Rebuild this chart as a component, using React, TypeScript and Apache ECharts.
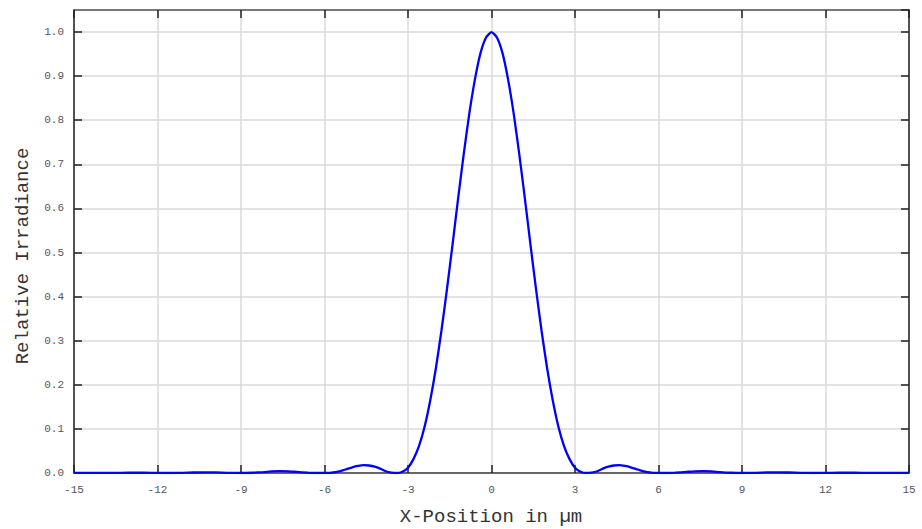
import React, { useEffect, useRef } from "react";
import * as echarts from "echarts";

const xPositions: number[] = [
  -15, -14.4, -13.8, -13.3, -12.8, -12.2, -11.6, -11.1, -10.7, -10.3, -9.9, -9.5, -9.0, -8.6, -8.2, -7.9, -7.6, -7.3, -7.0, -6.6, -6.3,
  -6.0, -5.8, -5.6, -5.4, -5.2, -5.0, -4.8, -4.6, -4.4, -4.2, -4.0, -3.8, -3.6, -3.4, -3.2, -3.0, -2.8, -2.6, -2.4, -2.2, -2.0,
  -1.8, -1.6, -1.4, -1.2, -1.0, -0.8, -0.6, -0.4, -0.2, 0,
  0.2, 0.4, 0.6, 0.8, 1.0, 1.2, 1.4, 1.6, 1.8, 2.0, 2.2, 2.4, 2.6, 2.8, 3.0, 3.2, 3.4, 3.6, 3.8, 4.0,
  4.2, 4.4, 4.6, 4.8, 5.0, 5.2, 5.4, 5.6, 5.8, 6.0, 6.3, 6.6, 7.0, 7.3, 7.6, 7.9, 8.2, 8.6, 9.0,
  9.5, 9.9, 10.3, 10.7, 11.1, 11.6, 12.2, 12.8, 13.3, 13.8, 14.4, 15,
];

const irradiance: number[] = [
  0.0003, 0.0002, 0.0001, 0.0005, 0.0007, 0.0003, 0.0, 0.0004, 0.0011, 0.0016, 0.0012, 0.0004, 0.0, 0.0006, 0.002, 0.0035, 0.0042, 0.0038, 0.0025, 0.0008, 0.0,
  0.0001, 0.0005, 0.002, 0.005, 0.009, 0.013, 0.016, 0.018, 0.017, 0.0145, 0.01, 0.004, 0.001, 0.0, 0.003, 0.012, 0.032, 0.062, 0.106, 0.165, 0.237,
  0.322, 0.417, 0.518, 0.622, 0.722, 0.814, 0.891, 0.951, 0.987, 1.0,
  0.987, 0.951, 0.891, 0.814, 0.722, 0.622, 0.518, 0.417, 0.322, 0.237, 0.165, 0.106, 0.062, 0.032, 0.012, 0.003, 0.0, 0.001, 0.004, 0.01,
  0.0145, 0.017, 0.018, 0.016, 0.013, 0.009, 0.005, 0.002, 0.0005, 0.0001, 0.0, 0.0008, 0.0025, 0.0038, 0.0042, 0.0035, 0.002, 0.0006, 0.0,
  0.0004, 0.0012, 0.0016, 0.0011, 0.0004, 0.0, 0.0003, 0.0007, 0.0005, 0.0001, 0.0002, 0.0003,
];

const xTitle = "X-Position in µm";
const yTitle = "Relative Irradiance";

export default function App() {
  const ref = useRef<HTMLDivElement>(null);
  useEffect(() => {
    if (!ref.current) return;
    const chart = echarts.init(ref.current, null, { renderer: "svg" });
    const labelFont = {
      fontFamily: "'Liberation Mono', monospace",
      fontSize: 11,
      color: "#555563",
    };
    const tick = { show: true, inside: true, length: 8, lineStyle: { color: "#222", width: 1.5 } };
    const split = { show: true, lineStyle: { color: "#dadada", width: 1.5 } };
    const data = xPositions.map((x, i) => [x, irradiance[i]]);
    chart.setOption({
      animation: false,
      backgroundColor: "#ffffff",
      grid: { left: 74, right: 13, top: 10, bottom: 56, containLabel: false },
      xAxis: [
        {
          type: "value",
          min: -15,
          max: 15,
          interval: 3,
          position: "bottom",
          axisLine: { show: true, onZero: false, lineStyle: { color: "#666", width: 2 } },
          axisTick: tick,
          splitLine: split,
          axisLabel: { ...labelFont, margin: 11 },
        },
        {
          type: "value",
          min: -15,
          max: 15,
          interval: 3,
          position: "top",
          axisLine: { show: true, onZero: false, lineStyle: { color: "#555", width: 1.5 } },
          axisTick: tick,
          splitLine: { show: false },
          axisLabel: { show: false },
        },
      ],
      yAxis: [
        {
          type: "value",
          min: 0,
          max: 1.05,
          interval: 0.1,
          position: "left",
          axisLine: { show: true, onZero: false, lineStyle: { color: "#222", width: 1.5 } },
          axisTick: tick,
          splitLine: split,
          axisLabel: {
            ...labelFont,
            margin: 10,
            showMaxLabel: false,
            formatter: (v: number) => (Math.abs(v * 10 - Math.round(v * 10)) < 1e-6 ? v.toFixed(1) : ""),
          },
        },
        {
          type: "value",
          min: 0,
          max: 1.05,
          interval: 0.1,
          position: "right",
          axisLine: { show: true, onZero: false, lineStyle: { color: "#222", width: 1.5 } },
          axisTick: tick,
          splitLine: { show: false },
          axisLabel: { show: false },
        },
      ],
      series: [
        {
          type: "line",
          data,
          xAxisIndex: 0,
          yAxisIndex: 0,
          showSymbol: false,
          smooth: 0.2,
          clip: true,
          lineStyle: { color: "#0000ff", width: 2.3 },
          z: 5,
        },
      ],
      graphic: [
        {
          type: "text",
          x: 491,
          y: 517,
          style: {
            text: xTitle,
            fontFamily: "'Liberation Mono', monospace",
            fontSize: 19,
            fill: "#333",
            textAlign: "center",
            textVerticalAlign: "middle",
          },
        },
        {
          type: "text",
          x: 23,
          y: 256,
          rotation: Math.PI / 2,
          style: {
            text: yTitle,
            fontFamily: "'Liberation Mono', monospace",
            fontSize: 19,
            fill: "#333",
            textAlign: "center",
            textVerticalAlign: "middle",
          },
        },
      ],
    });
    return () => chart.dispose();
  }, []);
  return <div ref={ref} style={{ position: "fixed", left: 0, top: 0, width: 922, height: 529 }} />;
}
